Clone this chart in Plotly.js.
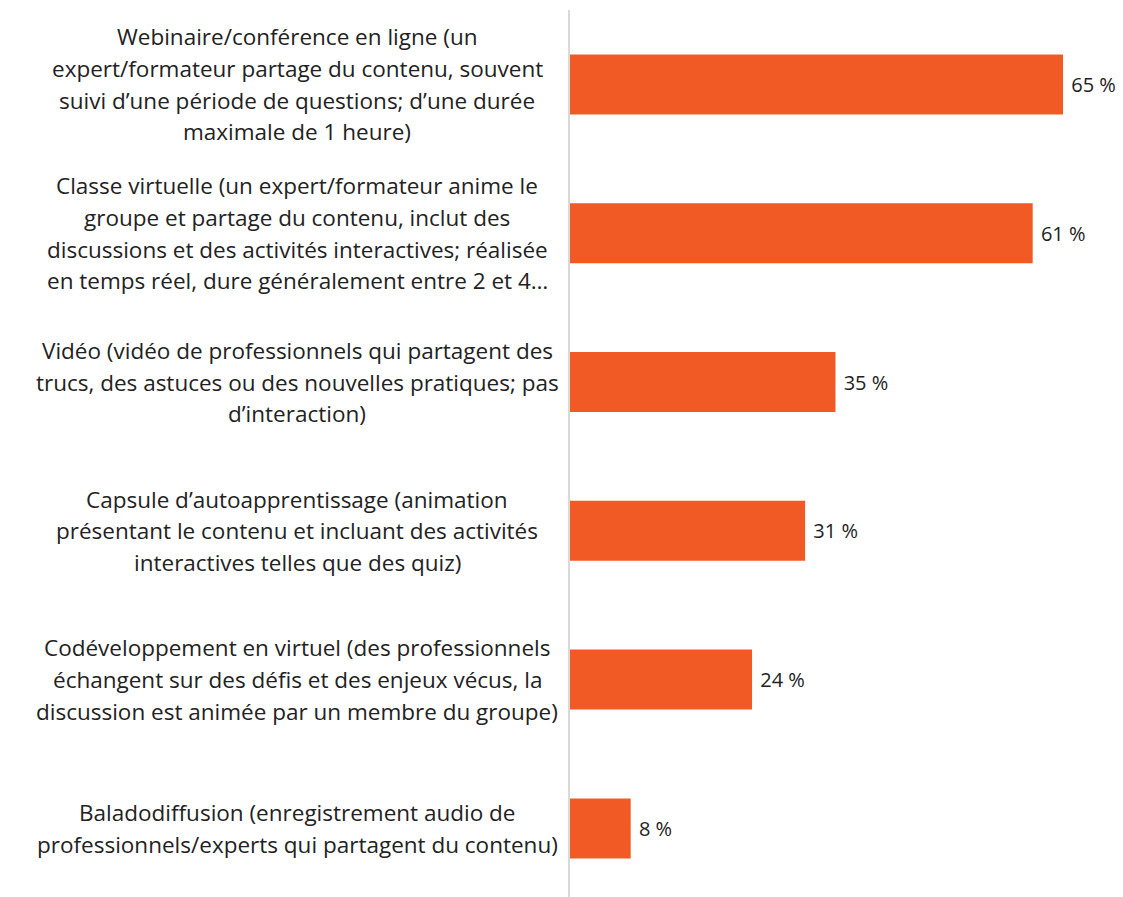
<!DOCTYPE html>
<html>
<head>
<meta charset="utf-8">
<script src="https://cdn.plot.ly/plotly-3.0.1.min.js"></script>
<style>html,body{margin:0;padding:0;background:#fff;}#chart{width:1123px;height:897px;}</style>
</head>
<body>
<div id="chart"></div>
<script>
const labelLines = [
  ["Webinaire/conférence en ligne (un", "expert/formateur partage du contenu, souvent", "suivi d’une période de questions; d’une durée", "maximale de 1 heure)"],
  ["Classe virtuelle (un expert/formateur anime le", "groupe et partage du contenu, inclut des", "discussions et des activités interactives; réalisée", "en temps réel, dure généralement entre 2 et 4…"],
  ["Vidéo (vidéo de professionnels qui partagent des", "trucs, des astuces ou des nouvelles pratiques; pas", "d’interaction)"],
  ["Capsule d’autoapprentissage (animation", "présentant le contenu et incluant des activités", "interactives telles que des quiz)"],
  ["Codéveloppement en virtuel (des professionnels", "échangent sur des défis et des enjeux vécus, la", "discussion est animée par un membre du groupe)"],
  ["Baladodiffusion (enregistrement audio de", "professionnels/experts qui partagent du contenu)"]
];
const categories = labelLines.map(l => l.join(" "));
const values = [65, 61, 35, 31, 24, 8];

const W = 1123, H = 897;
const marginL = 570, marginR = 0, marginT = 10, marginB = 0;
const plotW = W - marginL - marginR;
const plotH = H - marginT - marginB;
const bandPx = 148.8;
const labelCenterPx = 297;
const lineStep = 31.7;

const annotations = [];
labelLines.forEach((lines, i) => {
  const n = lines.length;
  lines.forEach((line, j) => {
    annotations.push({
      xref: 'paper', yref: 'y',
      x: (labelCenterPx - marginL) / plotW,
      y: categories[i],
      xanchor: 'center', yanchor: 'middle',
      yshift: -(j - (n - 1) / 2) * lineStep,
      text: line, showarrow: false,
      font: {family: 'Open Sans, sans-serif', size: 22.5, color: '#222222'}
    });
  });
});

const trace = {
  type: 'bar', orientation: 'h',
  x: values, y: categories,
  marker: {color: '#F15A24'},
  texttemplate: '\u00a0%{x} %', textposition: 'outside',
  textfont: {family: 'Open Sans, sans-serif', size: 20, color: '#222222'},
  cliponaxis: false, hoverinfo: 'none'
};

const layout = {
  width: W, height: H,
  margin: {l: marginL, r: marginR, t: marginT, b: marginB, pad: 0},
  paper_bgcolor: '#ffffff', plot_bgcolor: '#ffffff',
  showlegend: false,
  bargap: 0.597,
  xaxis: {range: [0, plotW / 7.585], showgrid: false, zeroline: false, showticklabels: false, showline: false, fixedrange: true},
  yaxis: {categoryorder: 'array', categoryarray: categories,
          range: [-0.5 + plotH / bandPx, -0.5],
          showticklabels: false, showgrid: false, zeroline: false,
          showline: true, linecolor: '#d9d9d9', linewidth: 2, ticks: ''},
  annotations: annotations
};

Plotly.newPlot('chart', [trace], layout, {displayModeBar: false, staticPlot: true});
</script>
</body>
</html>
